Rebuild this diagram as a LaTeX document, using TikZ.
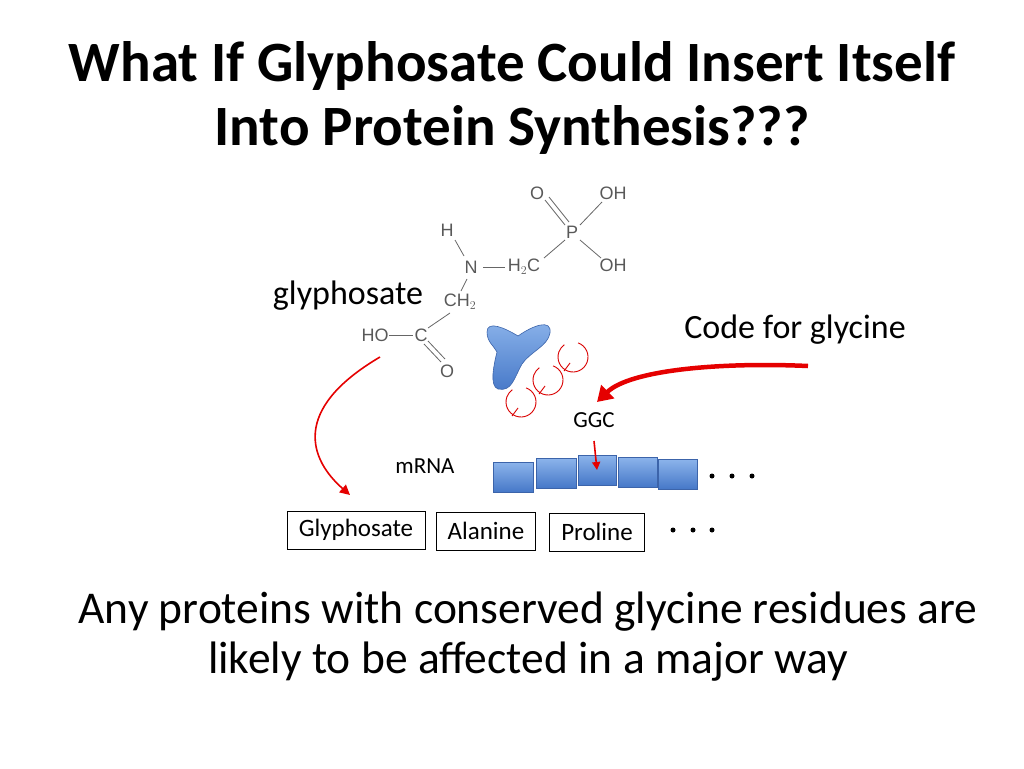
\documentclass[tikz,border=0pt]{standalone}
\usepackage{fontspec}
\setmainfont{Carlito}
\newfontfamily\chemfont{Liberation Sans}
\usetikzlibrary{arrows.meta}
\definecolor{bTop}{RGB}{140,180,235}
\definecolor{bBot}{RGB}{70,120,200}
\definecolor{bEdge}{RGB}{60,100,170}
\begin{document}
\begin{tikzpicture}[x=1pt,y=-1pt,
  atom/.style={font=\chemfont\fontsize{18}{18}\selectfont, text=black!65, inner sep=0pt},
  bond/.style={black!60, line width=0.8pt},
  blk/.style={draw=bEdge, line width=0.6pt, top color=bTop, bottom color=bBot},
  lbl/.style={draw, line width=0.6pt, minimum height=38pt, inner sep=4pt, font=\fontsize{25}{25}\selectfont},
  redarr/.style={red!90!black, line width=1.6pt},
  trna/.style={red!85!black, line width=0.9pt}]
\useasboundingbox (0,0) rectangle (1024,768);
\node (t1) at (512,66) {\fontsize{57}{60}\selectfont\bfseries What If Glyphosate Could Insert Itself};
\node (t2) at (512,130) {\fontsize{57}{60}\selectfont\bfseries Into Protein Synthesis???};
% molecule
\node[atom] (O1) at (537,193) {O};
\node[atom] (OH1) at (613,193) {OH};
\node[atom] (P) at (572,232) {P};
\node[atom] (H) at (447,230) {H};
\node[atom] (N) at (471,267) {N};
\node[atom] (H2C) at (524,267) {H$_2$C};
\node[atom] (OH2) at (613,265) {OH};
\node[atom] (CH2) at (460,302) {CH$_2$};
\node[atom] (HO) at (375,335) {HO};
\node[atom] (C) at (421,335) {C};
\node[atom] (O2) at (447,371) {O};
\draw[bond] (545,200) -- (565,225); \draw[bond] (549,197) -- (569,222);
\draw[bond] (580,225) -- (602,202);
\draw[bond] (580,240) -- (601,258);
\draw[bond] (544,258) -- (565,240);
\draw[bond] (483,267) -- (505,267);
\draw[bond] (455,240) -- (464,256);
\draw[bond] (467,279) -- (461,291);
\draw[bond] (450,313) -- (428,328);
\draw[bond] (389,335) -- (413,335);
\draw[bond] (424,344) -- (441,362); \draw[bond] (428,341) -- (445,359);
\node[font=\fontsize{34}{34}\selectfont] (gly) at (348,296) {glyphosate};
\node[font=\fontsize{34}{34}\selectfont] (code) at (795,330) {Code for glycine};
% enzyme blob
\draw[draw=bEdge, line width=0.6pt, top color=bTop, bottom color=bBot]
  (487,332) .. controls (487,320) and (505,328) .. (518,336)
  .. controls (532,326) and (552,318) .. (550,333)
  .. controls (548,346) and (530,352) .. (522,364)
  .. controls (514,378) and (512,392) .. (498,389)
  .. controls (489,386) and (494,364) .. (497,352)
  .. controls (494,346) and (487,342) .. (487,332) -- cycle;
% tRNA circles
\foreach \cx/\cy in {573/357,548/380,521/402}{
  \draw[trna] (\cx,\cy) ++(-70:15) arc[start angle=-70,end angle=235,radius=15];
  \draw[trna] (\cx-3,\cy+6) -- (\cx-9,\cy+14);
}
\node[font=\fontsize{23}{23}\selectfont] (ggc) at (594,420) {GGC};
\node[font=\fontsize{23}{23}\selectfont] (mrna) at (425,466) {mRNA};
% mRNA blocks
\draw[blk] (493,462) rectangle (533,492);
\draw[blk] (536,458) rectangle (576,488);
\node[blk, minimum width=38pt, minimum height=30pt, inner sep=0pt] (cod) at (597,470) {};
\draw[blk] (618,457) rectangle (657,487);
\draw[blk] (658,459) rectangle (697,489);
\foreach \x in {712,732,752} \fill (\x,476) circle (2.5);
\foreach \x in {673,693,712} \fill (\x,530) circle (2.5);
% boxes
\node[lbl, minimum width=138pt] (b1) at (356,530) {Glyphosate};
\node[lbl, minimum width=99pt] (b2) at (486,531) {Alanine};
\node[lbl, minimum width=95pt] (b3) at (597,532) {Proline};
% arrows
\draw[redarr, -{Triangle[length=10pt,width=10pt]}] (380,357) .. controls (290,410) and (310,460) .. (350,495);
\draw[red!90!black, line width=4.5pt, -{Triangle[length=15pt,width=18pt]}] (808,366) .. controls (720,362) and (630,370) .. (597,402);
\draw[redarr, -{Triangle[length=8pt,width=8pt]}] (594,441) -- (597,470);
\node[font=\fontsize{45.5}{46}\selectfont] (s1) at (528,612) {Any proteins with conserved glycine residues are};
\node[font=\fontsize{45.5}{46}\selectfont] (s2) at (528,662) {likely to be affected in a major way};
\end{tikzpicture}
\end{document}
